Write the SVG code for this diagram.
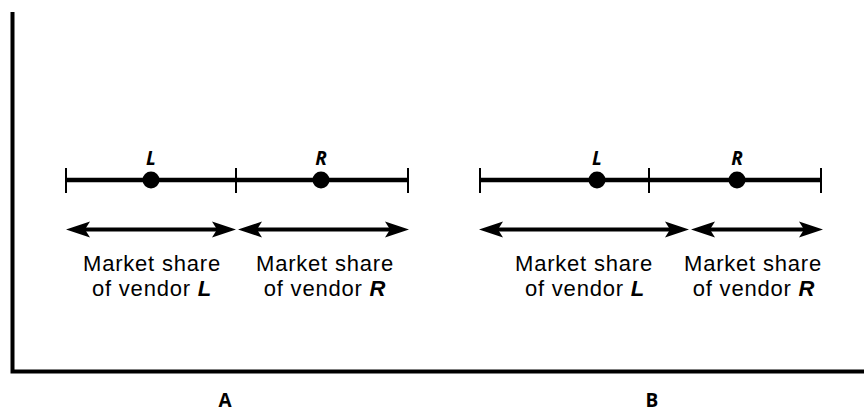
<svg xmlns="http://www.w3.org/2000/svg" width="864" height="415" viewBox="0 0 864 415">
<style>
.frame{fill:none;stroke:#000;stroke-width:4;stroke-linejoin:miter}
.axis{stroke:#000;stroke-width:4.5;fill:none}
.tick{stroke:#000;stroke-width:2;fill:none}
.dot{fill:#000}
.arrow{stroke:#000;stroke-width:4;fill:none;marker-start:url(#ah);marker-end:url(#ah)}
.pt{font-family:"Open Sans","Liberation Sans",sans-serif;font-size:19px;font-style:italic;font-weight:bold;text-anchor:middle;fill:#000}
.lbl{font-family:"Liberation Sans",Arial,sans-serif;font-size:22px;letter-spacing:0.8px;text-anchor:middle;fill:#000}
.it{font-style:italic;font-weight:bold}
.cap{font-family:"Open Sans","Liberation Sans",sans-serif;font-size:19px;font-weight:bold;text-anchor:middle;fill:#000}
</style>
<defs>
<marker id="ah" markerUnits="userSpaceOnUse" markerWidth="40" markerHeight="20" refX="0" refY="0" viewBox="-10 -10 40 20" orient="auto-start-reverse" overflow="visible">
<path d="M18,0 L-6,-8 L-1,0 L-6,8 Z" fill="#000"/>
</marker>
</defs>
<rect width="864" height="415" fill="#fff"/>
<path id="frame" class="frame" d="M12.5,12 V371.5 H864"/>

<g id="panelA">
<g id="axisA">
<line class="axis" x1="66" y1="180" x2="408" y2="180"/>
<line class="tick" x1="66" y1="168" x2="66" y2="193"/>
<line class="tick" x1="236" y1="168" x2="236" y2="193"/>
<line class="tick" x1="408" y1="168" x2="408" y2="193"/>
</g>
<g id="vendorLA"><circle class="dot" cx="151" cy="180" r="8.5"/><text class="pt" x="151" y="165">L</text></g>
<g id="vendorRA"><circle class="dot" cx="321" cy="180" r="8.5"/><text class="pt" x="321" y="165">R</text></g>
<g id="shareLA"><text class="lbl" x="152" y="270.5">Market share</text><text class="lbl" x="152" y="295.5">of vendor <tspan class="it">L</tspan></text></g>
<g id="shareRA"><text class="lbl" x="325" y="270.5">Market share</text><text class="lbl" x="325" y="295.5">of vendor <tspan class="it">R</tspan></text></g>
<text id="capA" class="cap" x="225" y="407">A</text>
</g>

<g id="panelB">
<g id="axisB">
<line class="axis" x1="480" y1="180" x2="821" y2="180"/>
<line class="tick" x1="480" y1="168" x2="480" y2="193"/>
<line class="tick" x1="649" y1="168" x2="649" y2="193"/>
<line class="tick" x1="821" y1="168" x2="821" y2="193"/>
</g>
<g id="vendorLB"><circle class="dot" cx="597" cy="180" r="8.5"/><text class="pt" x="597" y="165">L</text></g>
<g id="vendorRB"><circle class="dot" cx="737" cy="180" r="8.5"/><text class="pt" x="737" y="165">R</text></g>
<g id="shareLB"><text class="lbl" x="584" y="270.5">Market share</text><text class="lbl" x="585" y="295.5">of vendor <tspan class="it">L</tspan></text></g>
<g id="shareRB"><text class="lbl" x="753" y="270.5">Market share</text><text class="lbl" x="754" y="295.5">of vendor <tspan class="it">R</tspan></text></g>
<text id="capB" class="cap" x="652" y="407">B</text>
</g>

<g id="connectors">
<line class="arrow" x1="84" y1="229.5" x2="218" y2="229.5"/>
<line class="arrow" x1="256" y1="229.5" x2="391" y2="229.5"/>
<line class="arrow" x1="497" y1="229.5" x2="671" y2="229.5"/>
<line class="arrow" x1="709" y1="229.5" x2="805" y2="229.5"/>
</g>
</svg>
